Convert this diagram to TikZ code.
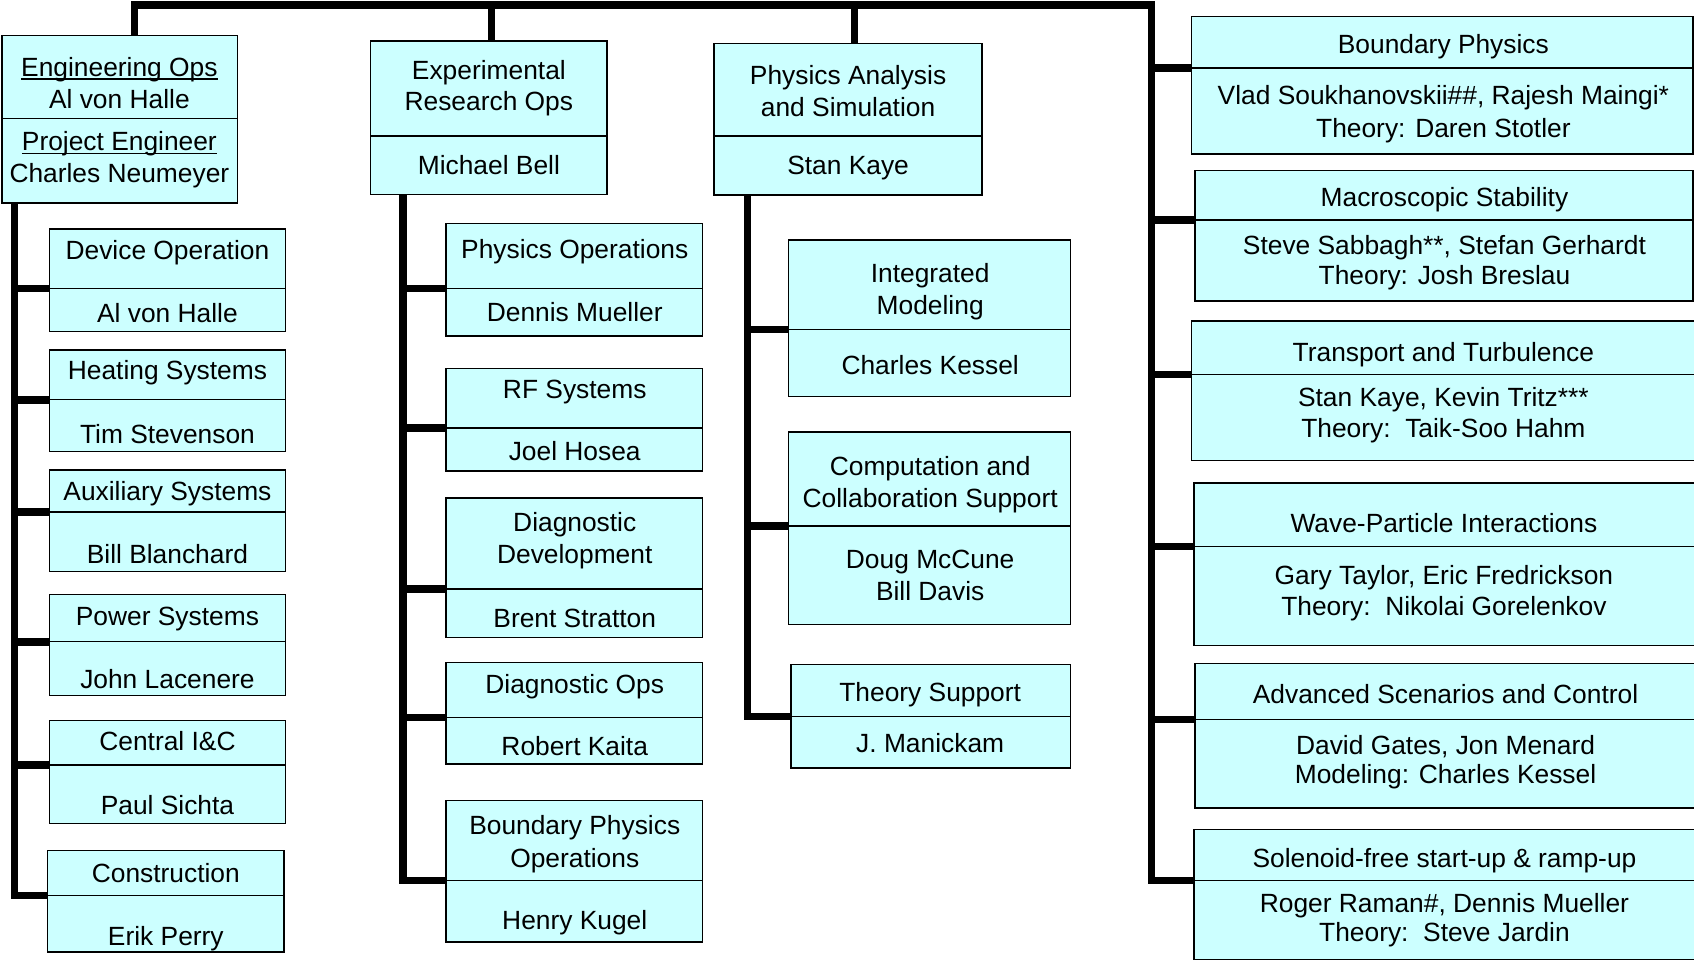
\documentclass[tikz,border=0pt]{standalone}
\usepackage{fontspec}
\setmainfont{Liberation Sans}
\usetikzlibrary{fit}
\definecolor{boxfill}{HTML}{CCFFFF}
\tikzset{
  boxpart/.style={draw=black, fill=boxfill, line width=0.65pt, inner sep=0pt, outer sep=0pt},
  conn/.style={draw=black, line width=3.5pt},
  lbl/.style={anchor=base, inner sep=0pt, font=\fontsize{12.2}{14.6}\selectfont},
}
\newcommand\ulx[1]{\setbox0=\hbox{#1}\rlap{\rule[-1.6pt]{\wd0}{0.6pt}}\box0}
% name, x1, x2, ytop, ydiv, ybot
\newcommand\obox[6]{%
  \node[boxpart, fit={(#2,#4) (#3,#5)}] (#1-t) {};
  \node[boxpart, fit={(#2,#5) (#3,#6)}] (#1-b) {};
}
\newcommand\tl[4]{\node[lbl] (#1) at (#2,#3+8.5) {#4};}
\begin{document}
\begin{tikzpicture}[x=0.5pt, y=-0.5pt]
\useasboundingbox (0,0) rectangle (1568,890);
\clip (0,0) rectangle (1568,890);
% ---- top-level boxes
\obox{eng}{2}{220}{33}{109.5}{188}
\obox{ero}{343}{562}{38}{126}{180}
\obox{pas}{661}{909}{40}{126}{180.5}
% ---- engineering children
\obox{dev}{46}{264}{212}{267}{307}
\obox{heat}{46}{264}{324}{370}{418}
\obox{aux}{46}{264}{435}{474}{529}
\obox{pow}{46}{264}{550}{594}{644}
\obox{cic}{46}{264}{667}{708}{762}
\obox{con}{44}{263}{787}{829}{881}
% ---- experimental research children
\obox{phys}{413}{650}{207}{267}{311}
\obox{rf}{413}{650}{341}{396}{436}
\obox{ddev}{413}{650}{461}{545}{590}
\obox{dops}{413}{650}{613}{664}{707}
\obox{bpo}{413}{650}{741}{815}{872}
% ---- physics analysis children
\obox{im}{730}{991}{222}{305}{367}
\obox{ccs}{730}{991}{400}{487}{578}
\obox{ts}{732}{991}{615}{663}{711}
% ---- topical science groups
\obox{bp}{1103}{1567}{15}{63}{142.5}
\obox{ms}{1106}{1567}{158}{203.5}{278.5}
\obox{tt}{1103}{1575}{297}{346.5}{426}
\obox{wp}{1105}{1575}{447}{506}{597.5}
\obox{asc}{1106}{1575}{614}{666}{748}
\obox{sol}{1105}{1575}{768}{815}{888}

% ---- connectors
\coordinate (busL) at (124.5,4.8);
\coordinate (busR) at (1066,4.8);
\coordinate (dropE) at (455,4.8);
\coordinate (dropP) at (791,4.8);
\draw[conn] (busL |- eng-t.north) -- (busL) -- (busR) |- (sol-t.south west);
\draw[conn] (dropE) -- (dropE |- ero-t.north);
\draw[conn] (dropP) -- (dropP |- pas-t.north);
\foreach \b in {bp,ms,tt,wp,asc}
  \draw[conn] (busR |- \b-t.south west) -- (\b-t.south west);

\coordinate (engT) at (13.5,188);
\draw[conn] (engT) |- (con-t.south west);
\foreach \b in {dev,heat,aux,pow,cic}
  \draw[conn] (engT |- \b-t.south west) -- (\b-t.south west);

\coordinate (eroT) at (373,180);
\draw[conn] (eroT) |- (bpo-t.south west);
\foreach \b in {phys,rf,ddev,dops}
  \draw[conn] (eroT |- \b-t.south west) -- (\b-t.south west);

\coordinate (pasT) at (692,180.5);
\draw[conn] (pasT) |- (ts-t.south west);
\foreach \b in {im,ccs}
  \draw[conn] (pasT |- \b-t.south west) -- (\b-t.south west);

% ---- texts
\tl{eng-1}{110.5}{62}{\ulx{Engineering Ops}}
\tl{eng-2}{110.5}{91.5}{Al von Halle}
\tl{eng-3}{110.5}{131}{\ulx{Project Engineer}}
\tl{eng-4}{110.5}{160.5}{Charles Neumeyer}

\tl{ero-1}{452.5}{65}{Experimental}
\tl{ero-2}{452.5}{94}{Research Ops}
\tl{ero-3}{452.5}{153}{Michael Bell}

\tl{pas-1}{785}{70}{Physics Analysis}
\tl{pas-2}{785}{99}{and Simulation}
\tl{pas-3}{785}{153}{Stan Kaye}

\tl{dev-1}{155}{231.5}{Device Operation}
\tl{dev-2}{155}{290}{Al von Halle}
\tl{heat-1}{155}{342.5}{Heating Systems}
\tl{heat-2}{155}{402}{Tim Stevenson}
\tl{aux-1}{155}{454.5}{Auxiliary Systems}
\tl{aux-2}{155}{513.5}{Bill Blanchard}
\tl{pow-1}{155}{570}{Power Systems}
\tl{pow-2}{155}{629}{John Lacenere}
\tl{cic-1}{155}{686}{Central I\&C}
\tl{cic-2}{155}{745}{Paul Sichta}
\tl{con-1}{153.5}{808}{Construction}
\tl{con-2}{153.5}{867}{Erik Perry}

\tl{phys-1}{532}{230.5}{Physics Operations}
\tl{phys-2}{532}{289.5}{Dennis Mueller}
\tl{rf-1}{532}{360}{RF Systems}
\tl{rf-2}{532}{418}{Joel Hosea}
\tl{ddev-1}{532}{483}{Diagnostic}
\tl{ddev-2}{532}{513}{Development}
\tl{ddev-3}{532}{572}{Brent Stratton}
\tl{dops-1}{532}{633}{Diagnostic Ops}
\tl{dops-2}{532}{691}{Robert Kaita}
\tl{bpo-1}{532}{764}{Boundary Physics}
\tl{bpo-2}{532}{794}{Operations}
\tl{bpo-3}{532}{852}{Henry Kugel}

\tl{im-1}{861}{253}{Integrated}
\tl{im-2}{861}{282.5}{Modeling}
\tl{im-3}{861}{338.5}{Charles Kessel}
\tl{ccs-1}{861}{432}{Computation and}
\tl{ccs-2}{861}{461.5}{Collaboration Support}
\tl{ccs-3}{861}{518}{Doug McCune}
\tl{ccs-4}{861}{547.5}{Bill Davis}
\tl{ts-1}{861}{640.5}{Theory Support}
\tl{ts-2}{861}{688}{J. Manickam}

\tl{bp-1}{1336}{41}{Boundary Physics}
\tl{bp-2}{1336}{88.5}{Vlad Soukhanovskii\#\#, Rajesh Maingi*}
\tl{bp-3}{1336}{118.5}{Theory: Daren Stotler}
\tl{ms-1}{1337}{182.5}{Macroscopic Stability}
\tl{ms-2}{1337}{227.5}{Steve Sabbagh**, Stefan Gerhardt}
\tl{ms-3}{1337}{254.5}{Theory: Josh Breslau}
\tl{tt-1}{1336}{326.5}{Transport and Turbulence}
\tl{tt-2}{1336}{367.5}{Stan Kaye, Kevin Tritz***}
\tl{tt-3}{1336}{396}{Theory:\ \ Taik-Soo Hahm}
\tl{wp-1}{1336.5}{484.5}{Wave-Particle Interactions}
\tl{wp-2}{1336.5}{532.5}{Gary Taylor, Eric Fredrickson}
\tl{wp-3}{1336.5}{561.5}{Theory:\ \ Nikolai Gorelenkov}
\tl{asc-1}{1338}{643}{Advanced Scenarios and Control}
\tl{asc-2}{1338}{690}{David Gates, Jon Menard}
\tl{asc-3}{1338}{716.5}{Modeling: Charles Kessel}
\tl{sol-1}{1337}{794}{Solenoid-free start-up \& ramp-up}
\tl{sol-2}{1337}{836.5}{Roger Raman\#, Dennis Mueller}
\tl{sol-3}{1337}{862.5}{Theory:\ \ Steve Jardin}
\end{tikzpicture}
\end{document}
